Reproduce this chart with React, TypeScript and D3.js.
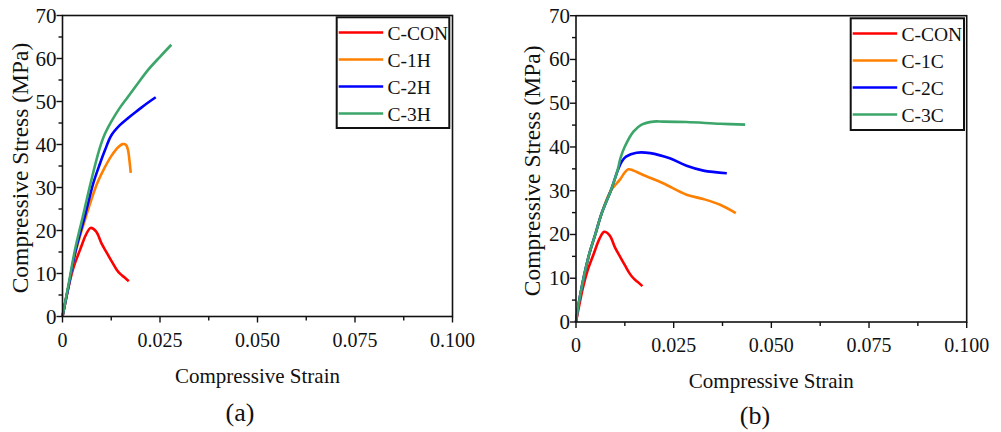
import * as d3 from "d3";

const W = 1001;
const H = 432;

const xTicks = [0, 0.025, 0.05, 0.075, 0.1];
const xTickLabels = ["0", "0.025", "0.050", "0.075", "0.100"];
const yTicks = [0, 10, 20, 30, 40, 50, 60, 70];

// C-CON is the same specimen in both panels
const conStrain = [0, 0.00175, 0.0029, 0.0045, 0.006, 0.0072, 0.0086, 0.01, 0.0113, 0.0125, 0.0138, 0.0148, 0.016, 0.017];
const conStress = [0, 7.7, 11.6, 15.5, 19, 20.6, 19.8, 17, 14.9, 13, 11, 9.9, 9, 8.2];

// panel (a)
const h1Strain = [0, 0.0017, 0.0035, 0.006, 0.0089, 0.0108, 0.0125, 0.0142, 0.0155, 0.0163, 0.0168, 0.0172, 0.0175];
const h1Stress = [0, 7.7, 15.5, 23.2, 31, 34.6, 37.3, 39.3, 40.1, 39.9, 38.7, 36, 33.4];
const h2Strain = [0, 0.0017, 0.0034, 0.0057, 0.0079, 0.0095, 0.0109, 0.0125, 0.0147, 0.017, 0.0194, 0.0217, 0.0239];
const h2Stress = [0, 7.7, 15.5, 23.2, 31, 35.3, 38.7, 42.1, 44.5, 46.3, 48, 49.6, 51];
const h3Strain = [0, 0.0016, 0.0032, 0.0052, 0.0072, 0.0094, 0.0108, 0.0125, 0.0146, 0.0168, 0.0194, 0.0219, 0.025, 0.0279];
const h3Stress = [0, 7.7, 15.5, 23.2, 31, 38.7, 42.3, 45.3, 48.4, 51.1, 54.3, 57.3, 60.4, 63.2];

// panel (b)
const c1Strain = [0, 0.001, 0.0032, 0.0049, 0.0066, 0.0089, 0.0113, 0.0125, 0.0134, 0.0145, 0.0172, 0.0223, 0.0283, 0.0326, 0.0369, 0.0409];
const c1Stress = [0, 5.8, 14.9, 19.9, 24.9, 30, 32.6, 34.2, 34.9, 34.7, 33.6, 31.7, 29.1, 28.1, 26.8, 24.9];
const c2Strain = [0, 0.001, 0.0032, 0.0049, 0.0066, 0.0089, 0.0108, 0.0118, 0.0128, 0.0155, 0.019, 0.024, 0.0283, 0.0326, 0.0386];
const c2Stress = [0, 5.8, 14.9, 19.9, 24.9, 30, 34.9, 36.8, 37.8, 38.7, 38.6, 37.4, 35.7, 34.6, 34];
const c3Strain = [0, 0.001, 0.0032, 0.0049, 0.0066, 0.0089, 0.0107, 0.0114, 0.0125, 0.0147, 0.0168, 0.0198, 0.0223, 0.0283, 0.0369, 0.0433];
const c3Stress = [0, 5.8, 14.9, 19.9, 24.9, 30, 34.9, 37.5, 40.1, 43.5, 45.1, 45.8, 45.8, 45.7, 45.3, 45.1];

const namesA = ["C-CON", "C-1H", "C-2H", "C-3H"];
const namesB = ["C-CON", "C-1C", "C-2C", "C-3C"];
const colors = ["#ff0000", "#ff8000", "#0000ff", "#3ca66a"];

const zip = (xs: number[], ys: number[]) => xs.map((x, i) => [x, ys[i]] as [number, number]);

const seriesA = [zip(conStrain, conStress), zip(h1Strain, h1Stress), zip(h2Strain, h2Stress), zip(h3Strain, h3Stress)];
const seriesB = [zip(conStrain, conStress), zip(c1Strain, c1Stress), zip(c2Strain, c2Stress), zip(c3Strain, c3Stress)];

const font = "'Liberation Serif', 'Times New Roman', serif";

type PanelProps = {
  x0: number;
  x1: number;
  y0: number;
  y1: number;
  names: string[];
  series: [number, number][][];
  legend: { x: number; y: number; w: number; h: number };
  yTitleX: number;
  xTitleY: number;
  tag: string;
  tagX: number;
  tagY: number;
};

const Panel = (p: PanelProps) => {
  const x = d3.scaleLinear().domain([0, 0.1]).range([p.x0, p.x1]);
  const y = d3.scaleLinear().domain([0, 70]).range([p.y1, p.y0]);
  const line = d3
    .line<[number, number]>()
    .x((d) => x(d[0]))
    .y((d) => y(d[1]))
    .curve(d3.curveCatmullRom.alpha(0.5));

  const xMinor = d3.range(0.0125, 0.1, 0.025);
  const yMinor = d3.range(5, 70, 10);

  return (
    <g fontFamily={font}>
      {p.series.map((s, i) => (
        <path key={p.names[i]} d={line(s) ?? ""} fill="none" stroke={colors[i]} strokeWidth={2.6} strokeLinejoin="round" />
      ))}
      <rect x={p.x0} y={p.y0} width={p.x1 - p.x0} height={p.y1 - p.y0} fill="none" stroke="#111" strokeWidth={1.6} />
      {xTicks.map((t) => (
        <line key={t} x1={x(t)} x2={x(t)} y1={p.y1} y2={p.y1 + 6} stroke="#111" strokeWidth={1.4} />
      ))}
      {xMinor.map((t) => (
        <line key={t} x1={x(t)} x2={x(t)} y1={p.y1} y2={p.y1 + 4} stroke="#111" strokeWidth={1.4} />
      ))}
      {yTicks.map((t) => (
        <line key={t} x1={p.x0 - 6} x2={p.x0} y1={y(t)} y2={y(t)} stroke="#111" strokeWidth={1.4} />
      ))}
      {yMinor.map((t) => (
        <line key={t} x1={p.x0 - 4} x2={p.x0} y1={y(t)} y2={y(t)} stroke="#111" strokeWidth={1.4} />
      ))}
      {xTicks.map((t, i) => (
        <text key={t} x={x(t)} y={p.y1 + 30} textAnchor="middle" fontSize={20} fill="#111">
          {xTickLabels[i]}
        </text>
      ))}
      {yTicks.map((t) => (
        <text key={t} x={p.x0 - 6} y={y(t) + 7} textAnchor="end" fontSize={21} fill="#111">
          {t}
        </text>
      ))}
      <text
        transform={`translate(${p.yTitleX},${(p.y0 + p.y1) / 2 + 2}) rotate(-90)`}
        textAnchor="middle"
        dominantBaseline="central"
        fontSize={23.5}
        fill="#111"
      >
        Compressive Stress (MPa)
      </text>
      <text x={(p.x0 + p.x1) / 2} y={p.xTitleY} textAnchor="middle" fontSize={21} fill="#111">
        Compressive Strain
      </text>
      <text x={p.tagX} y={p.tagY} textAnchor="middle" fontSize={26} fill="#111">
        {p.tag}
      </text>
      <g transform={`translate(${p.legend.x},${p.legend.y})`}>
        <rect x={0} y={0} width={p.legend.w} height={p.legend.h} fill="white" stroke="#111" strokeWidth={2} />
        {p.names.map((n, i) => (
          <g key={n} transform={`translate(0,${15.2 + i * 27})`}>
            <line x1={2} x2={46.5} y1={0} y2={0} stroke={colors[i]} strokeWidth={2.5} />
            <text x={50.8} y={7} fontSize={19.5} fill="#111">
              {n}
            </text>
          </g>
        ))}
      </g>
    </g>
  );
};

export default function App() {
  return (
    <svg width={W} height={H} style={{ position: "absolute", left: 0, top: 0, background: "white" }}>
      <rect width={W} height={H} fill="white" />
      <Panel
        x0={62.5}
        x1={452.5}
        y0={15.5}
        y1={316.5}
        names={namesA}
        series={seriesA}
        legend={{ x: 336.7, y: 17.3, w: 112.6, h: 110.7 }}
        yTitleX={20}
        xTitleY={383}
        tag="(a)"
        tagX={240}
        tagY={421}
      />
      <Panel
        x0={576}
        x1={966.7}
        y0={15.7}
        y1={322}
        names={namesB}
        series={seriesB}
        legend={{ x: 850.7, y: 18.3, w: 113.3, h: 111.7 }}
        yTitleX={532}
        xTitleY={388}
        tag="(b)"
        tagX={755}
        tagY={424}
      />
    </svg>
  );
}
